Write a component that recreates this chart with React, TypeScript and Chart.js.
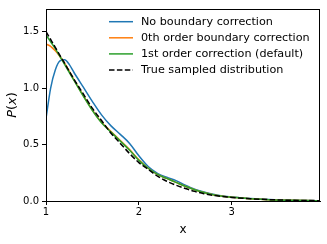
import React, { useEffect, useRef } from "react";
import { Chart, registerables } from "chart.js";

Chart.register(...registerables);

const xs = [1.0, 1.05, 1.1, 1.15, 1.2, 1.25, 1.3, 1.4, 1.5, 1.6, 1.7, 1.8, 1.9, 2.0, 2.1, 2.2, 2.3, 2.4, 2.5, 2.6, 2.7, 2.8, 2.9, 3.0, 3.2, 3.4, 3.6, 3.8, 3.95];

const noCorrection = [0.73, 1.0, 1.16, 1.24, 1.25, 1.21, 1.14, 1.01, 0.88, 0.76, 0.665, 0.59, 0.51, 0.40, 0.305, 0.245, 0.21, 0.18, 0.14, 0.105, 0.08, 0.06, 0.045, 0.035, 0.022, 0.013, 0.008, 0.004, 0.003];
const order0 = [1.39, 1.37, 1.33, 1.28, 1.22, 1.15, 1.075, 0.935, 0.805, 0.695, 0.615, 0.535, 0.455, 0.365, 0.29, 0.235, 0.2, 0.165, 0.13, 0.1, 0.075, 0.055, 0.042, 0.033, 0.021, 0.012, 0.007, 0.004, 0.003];
const order1 = [1.47, 1.41, 1.35, 1.28, 1.21, 1.14, 1.07, 0.93, 0.8, 0.69, 0.61, 0.53, 0.45, 0.36, 0.29, 0.235, 0.2, 0.165, 0.13, 0.1, 0.075, 0.055, 0.042, 0.033, 0.021, 0.012, 0.007, 0.004, 0.003];
const trueDist = [1.5, 1.43, 1.36, 1.29, 1.22, 1.15, 1.08, 0.95, 0.82, 0.71, 0.6, 0.51, 0.42, 0.34, 0.28, 0.22, 0.175, 0.14, 0.11, 0.085, 0.065, 0.05, 0.04, 0.032, 0.02, 0.012, 0.007, 0.004, 0.003];

const seriesLabels = [
  "No boundary correction",
  "0th order boundary correction",
  "1st order correction (default)",
  "True sampled distribution",
];
const seriesColors = ["#1f77b4", "#ff7f0e", "#2ca02c", "#000000"];
const xTicks = [1, 2, 3];
const yTicks = [0, 0.5, 1.0, 1.5];
const xRange = [1, 3.95];
const yRange = [0, 1.7];

const FONT = "DejaVu Sans";

export default function App() {
  const ref = useRef<HTMLCanvasElement | null>(null);

  useEffect(() => {
    const canvas = ref.current;
    if (!canvas) return;
    const seriesValues = [noCorrection, order0, order1, trueDist];
    const datasets = seriesValues.map((vals, i) => ({
      label: seriesLabels[i],
      data: xs.map((x, j) => ({ x, y: vals[j] })),
      borderColor: seriesColors[i],
      backgroundColor: seriesColors[i],
      borderWidth: 1.5,
      borderDash: i === 3 ? [5.5, 2.4] : [],
      pointRadius: 0,
      fill: false,
      cubicInterpolationMode: "monotone" as const,
      order: 3 - i,
    }));

    const overlay = {
      id: "overlay",
      afterDraw(chart: any) {
        const ctx = chart.ctx as CanvasRenderingContext2D;
        const a = chart.chartArea;
        ctx.save();
        ctx.strokeStyle = "#000";
        ctx.lineWidth = 1;
        ctx.setLineDash([]);
        ctx.strokeRect(Math.round(a.left) + 0.5, Math.round(a.top) + 0.5, Math.round(a.right - a.left) - 1, Math.round(a.bottom - a.top));
        ctx.font = `11.2px "${FONT}"`;
        ctx.textBaseline = "middle";
        ctx.textAlign = "left";
        seriesLabels.forEach((lab, i) => {
          const y = 21.7 + 16.1 * i;
          ctx.beginPath();
          ctx.strokeStyle = seriesColors[i];
          ctx.lineWidth = 1.5;
          ctx.setLineDash(i === 3 ? [5.5, 2.4] : []);
          ctx.moveTo(109, y);
          ctx.lineTo(133, y);
          ctx.stroke();
          ctx.fillStyle = "#000";
          ctx.fillText(lab, 141, y);
        });
        ctx.setLineDash([]);
        ctx.font = `12px "${FONT}"`;
        ctx.textAlign = "center";
        ctx.fillText("x", (a.left + a.right) / 2, 230);
        ctx.translate(12.5, (a.top + a.bottom) / 2);
        ctx.rotate(-Math.PI / 2);
        const parts: [string, string][] = [
          ["P", `italic 13px "${FONT}"`],
          ["(", `13px "${FONT}"`],
          ["x", `italic 13px "${FONT}"`],
          [")", `13px "${FONT}"`],
        ];
        let total = 0;
        parts.forEach(([t, f]) => {
          ctx.font = f;
          total += ctx.measureText(t).width;
        });
        let cx = -total / 2;
        ctx.textAlign = "left";
        parts.forEach(([t, f]) => {
          ctx.font = f;
          ctx.fillText(t, cx, 0);
          cx += ctx.measureText(t).width;
        });
        ctx.restore();
      },
    };

    const chart = new Chart(canvas, {
      type: "line",
      data: { datasets },
      options: {
        animation: false,
        responsive: false,
        layout: { padding: { top: 6, right: 7, left: 0, bottom: 0 } },
        plugins: { legend: { display: false }, tooltip: { enabled: false } },
        scales: {
          x: {
            type: "linear",
            min: xRange[0],
            max: xRange[1],
            afterBuildTicks: (s: any) => {
              s.ticks = xTicks.map((v) => ({ value: v }));
            },
            afterFit: (s: any) => {
              s.height = 43;
            },
            grid: { display: true, drawOnChartArea: false, tickLength: 4, tickColor: "#000", tickWidth: 1 },
            border: { display: true, color: "#000", width: 1 },
            ticks: {
              color: "#000",
              padding: 1,
              maxRotation: 0,
              font: { family: FONT, size: 10 },
              callback: (v: any) => String(v),
            },
          },
          y: {
            type: "linear",
            min: yRange[0],
            max: yRange[1],
            afterBuildTicks: (s: any) => {
              s.ticks = yTicks.map((v) => ({ value: v }));
            },
            afterFit: (s: any) => {
              s.width = 46;
            },
            grid: { display: true, drawOnChartArea: false, tickLength: 4, tickColor: "#000", tickWidth: 1 },
            border: { display: true, color: "#000", width: 1 },
            ticks: {
              color: "#000",
              padding: 3,
              font: { family: FONT, size: 10 },
              callback: (v: any) => Number(v).toFixed(1),
            },
          },
        },
      },
      plugins: [overlay],
    });
    return () => chart.destroy();
  }, []);

  return (
    <div style={{ position: "absolute", left: 0, top: 0, width: 327, height: 244, background: "#fff" }}>
      <canvas ref={ref} width={327} height={244} style={{ width: 327, height: 244, display: "block" }} />
    </div>
  );
}
